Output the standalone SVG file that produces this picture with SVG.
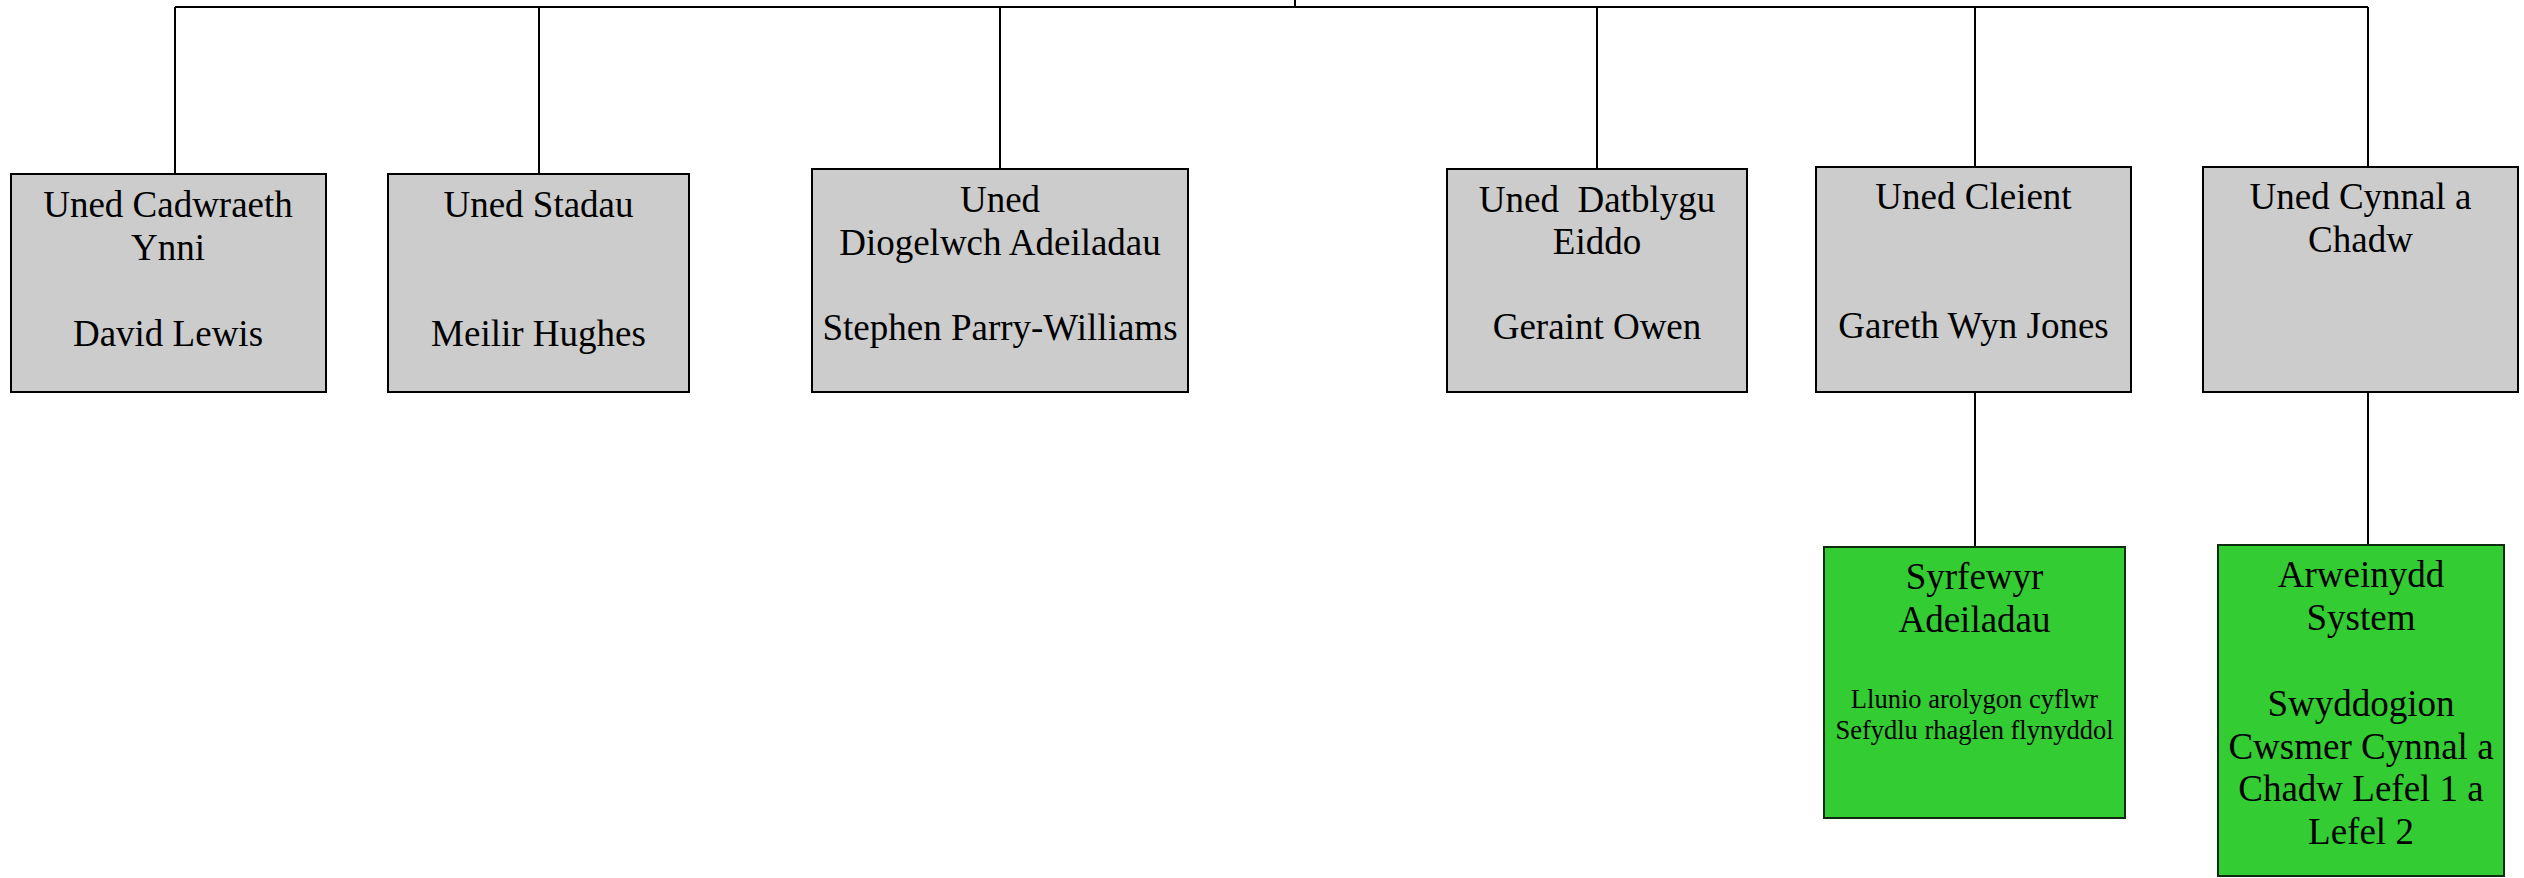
<svg xmlns="http://www.w3.org/2000/svg" width="2524" height="878" viewBox="0 0 2524 878">
<style>
.box{fill:#cccccc;stroke:#000;stroke-width:2}
.gbox{fill:#33cc33;stroke:#0d2b0d;stroke-width:2}
.conn{stroke:#000;stroke-width:2;fill:none}
text{font-family:"Liberation Serif","Times New Roman",serif;fill:#000;text-anchor:middle}
.t{font-size:37px}
.s{font-size:26.5px}
</style>
<rect width="2524" height="878" fill="#fff"/>
<g id="connectors">
<path class="conn" d="M1295 0V7M175 7H2368M175 7V174M539 7V174M1000 7V169M1597 7V169M1975 7V167M2368 7V167M1975 392V547M2368 392V545"/>
</g>
<g id="n1">
<rect class="box" x="11" y="174" width="315" height="218"/>
<text class="t" x="168" y="217">Uned Cadwraeth</text>
<text class="t" x="168" y="260">Ynni</text>
<text class="t" x="168" y="346">David Lewis</text>
</g>
<g id="n2">
<rect class="box" x="388" y="174" width="301" height="218"/>
<text class="t" x="538.5" y="217">Uned Stadau</text>
<text class="t" x="538.5" y="346">Meilir Hughes</text>
</g>
<g id="n3">
<rect class="box" x="812" y="169" width="376" height="223"/>
<text class="t" x="1000" y="212">Uned</text>
<text class="t" x="1000" y="255">Diogelwch Adeiladau</text>
<text class="t" x="1000" y="340">Stephen Parry-Williams</text>
</g>
<g id="n4">
<rect class="box" x="1447" y="169" width="300" height="223"/>
<text class="t" x="1597" y="212" xml:space="preserve">Uned  Datblygu</text>
<text class="t" x="1597" y="254">Eiddo</text>
<text class="t" x="1597" y="339">Geraint Owen</text>
</g>
<g id="n5">
<rect class="box" x="1816" y="167" width="315" height="225"/>
<text class="t" x="1973.5" y="209">Uned Cleient</text>
<text class="t" x="1973.5" y="338">Gareth Wyn Jones</text>
</g>
<g id="n6">
<rect class="box" x="2203" y="167" width="315" height="225"/>
<text class="t" x="2360.5" y="209">Uned Cynnal a</text>
<text class="t" x="2360.5" y="252">Chadw</text>
</g>
<g id="n7">
<rect class="gbox" x="1824" y="547" width="301" height="271"/>
<text class="t" x="1974.5" y="589">Syrfewyr</text>
<text class="t" x="1974.5" y="632">Adeiladau</text>
<text class="s" x="1974.5" y="708">Llunio arolygon cyflwr</text>
<text class="s" x="1974.5" y="739">Sefydlu rhaglen flynyddol</text>
</g>
<g id="n8">
<rect class="gbox" x="2218" y="545" width="286" height="331"/>
<text class="t" x="2361" y="587">Arweinydd</text>
<text class="t" x="2361" y="630">System</text>
<text class="t" x="2361" y="716">Swyddogion</text>
<text class="t" x="2361" y="759">Cwsmer Cynnal a</text>
<text class="t" x="2361" y="801">Chadw Lefel 1 a</text>
<text class="t" x="2361" y="844">Lefel 2</text>
</g>
</svg>
